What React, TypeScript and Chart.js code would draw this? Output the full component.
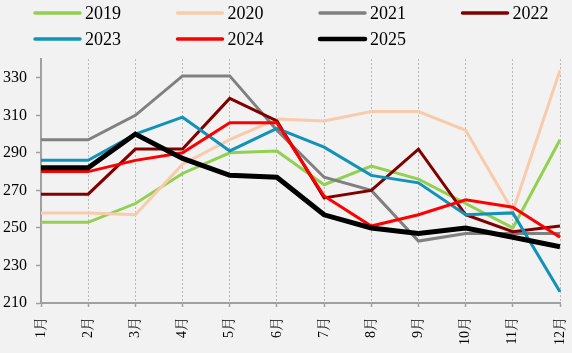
import React, { useEffect, useRef } from "react";
import { Chart, registerables } from "chart.js";

Chart.register(...registerables);

const months = ["1月", "2月", "3月", "4月", "5月", "6月", "7月", "8月", "9月", "10月", "11月", "12月"];
const yTicks = [210, 230, 250, 270, 290, 310, 330];

const v2019 = [253, 253, 263, 279, 290, 291, 273, 283, 276, 263, 250, 297];
const v2020 = [258, 258, 257, 284, 297, 308, 307, 312, 312, 302, 259, 334];
const v2021 = [297, 297, 310, 331, 331, 302, 277, 270, 243, 247, 247, 247];
const v2022 = [268, 268, 292, 292, 319, 307, 266, 270, 292, 257, 248, 251];
const v2023 = [286, 286, 300, 309, 291, 303, 293, 278, 274, 257, 258, 216];
const v2024 = [280, 280, 286, 290, 306, 306, 267, 251, 257, 265, 261, 245];
const v2025 = [282, 282, 300, 287, 278, 277, 257, 250, 247, 250, 245, 240];

const seriesLabels = ["2019", "2020", "2021", "2022", "2023", "2024", "2025"];
const seriesValues = [v2019, v2020, v2021, v2022, v2023, v2024, v2025];
const seriesColors = ["#92d050", "#f8cbad", "#808080", "#800000", "#1192b8", "#ff0000", "#000000"];
const seriesWidths = [3, 3, 3, 3, 3, 3, 5];

const FONT = "'Liberation Serif', 'Times New Roman', 'Noto Serif CJK SC', 'Noto Sans CJK SC', serif";

const legendPlugin = {
  id: "customLegend",
  afterDraw(chart: any) {
    const ctx = chart.ctx;
    ctx.save();
    ctx.font = `18px ${FONT}`;
    ctx.textBaseline = "middle";
    ctx.textAlign = "left";
    chart.data.datasets.forEach((ds: any, i: number) => {
      const col = i % 4;
      const row = Math.floor(i / 4);
      const x = 34 + col * 142.5;
      const y = 13 + row * 26;
      ctx.strokeStyle = ds.borderColor;
      ctx.lineWidth = ds.borderWidth >= 5 ? 4.5 : 3.5;
      ctx.lineCap = "round";
      ctx.beginPath();
      ctx.moveTo(x + 1, y);
      ctx.lineTo(x + 46, y);
      ctx.stroke();
      ctx.fillStyle = "#000";
      ctx.fillText(ds.label, x + 51, y + 1);
    });
    ctx.restore();
  },
};

export default function App() {
  const ref = useRef<HTMLCanvasElement>(null);
  useEffect(() => {
    if (!ref.current) return;
    const chart = new Chart(ref.current, {
      type: "line",
      data: {
        labels: months,
        datasets: seriesLabels.map((label, i) => ({
          label,
          data: seriesValues[i],
          borderColor: seriesColors[i],
          backgroundColor: seriesColors[i],
          borderWidth: seriesWidths[i],
          pointRadius: 0,
          tension: 0,
          fill: false,
          order: seriesLabels.length - i,
        })),
      },
      options: {
        animation: false,
        responsive: false,
        maintainAspectRatio: false,
        layout: { padding: { top: 59, right: 12, left: 0, bottom: 0 } },
        plugins: {
          legend: { display: false },
          tooltip: { enabled: false },
        },
        scales: {
          x: {
            offset: false,
            grid: {
              display: true,
              drawOnChartArea: true,
              color: "#b8b8b8",
              lineWidth: 1,
              drawTicks: true,
              tickLength: 4,
              tickColor: "#a0a0a0",
              tickWidth: 1.5,
            },
            border: { display: true, color: "#a0a0a0", width: 2, dash: [2, 2] },
            ticks: {
              maxRotation: 90,
              minRotation: 90,
              autoSkip: false,
              padding: 10,
              color: "#000",
              font: { family: FONT, size: 14 },
            },
            afterFit(scale: any) {
              scale.height = 50;
              scale.paddingLeft = 0;
              scale.paddingRight = 0;
            },
          },
          y: {
            min: 210,
            max: 340,
            afterBuildTicks(scale: any) {
              scale.ticks = yTicks.map((v) => ({ value: v }));
            },
            grid: {
              display: true,
              drawOnChartArea: false,
              drawTicks: true,
              tickLength: 5,
              tickColor: "#a0a0a0",
              tickWidth: 1.5,
            },
            border: { display: true, color: "#a0a0a0", width: 2 },
            ticks: {
              padding: 9,
              color: "#000",
              font: { family: FONT, size: 16 },
            },
            afterFit(scale: any) {
              scale.width = 41;
              scale.paddingTop = 0;
              scale.paddingBottom = 0;
            },
          },
        },
      },
      plugins: [legendPlugin],
    } as any);
    return () => chart.destroy();
  }, []);
  return (
    <div
      style={{
        position: "absolute",
        left: 0,
        top: 0,
        width: 572,
        height: 353,
        background: "#f2f2f2",
      }}
    >
      <canvas ref={ref} width={572} height={353} style={{ display: "block", width: 572, height: 353 }} />
    </div>
  );
}
